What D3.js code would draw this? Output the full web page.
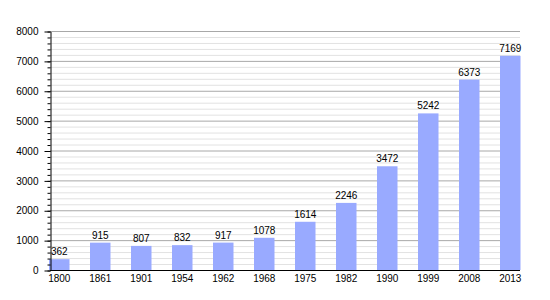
<!DOCTYPE html>
<html>
<head>
<meta charset="utf-8">
<script src="https://cdn.jsdelivr.net/npm/d3@7"></script>
<style>
	body { margin: 0; background: #fff; }
	svg { display: block; }
	text { font-family: "Liberation Sans", Arial, sans-serif; font-size: 10px; fill: #000; }
</style>
</head>
<body>
<svg id="chart" width="550" height="300"></svg>
<script>
const years = ['1800', '1861', '1901', '1954', '1962', '1968', '1975', '1982', '1990', '1999', '2008', '2013'];
const population = [362, 915, 807, 832, 917, 1078, 1614, 2246, 3472, 5242, 6373, 7169];
const majorTicks = [0, 1000, 2000, 3000, 4000, 5000, 6000, 7000, 8000];

const plotLeft = 50, plotRight = 520, plotTop = 31, plotBottom = 270;

const svg = d3.select('#chart');

// bars are left-aligned in their band, the last one ends at the right edge
const x = d3.scaleBand()
	.domain(years)
	.range([49, plotRight + 0.5])
	.paddingInner(0.5)
	.paddingOuter(0)
	.align(0);

const y = d3.scaleLinear()
	.domain([0, 8000])
	.range([plotBottom, plotTop]);

const minorTicks = d3.range(0, 8001, 200);

// grid lines: light every 200, darker every 1000
svg.append('g')
	.selectAll('line')
	.data(minorTicks.filter(d => d % 1000 !== 0))
	.join('line')
	.attr('x1', plotLeft).attr('x2', plotRight)
	.attr('y1', d => y(d) + 0.5).attr('y2', d => y(d) + 0.5)
	.attr('stroke', '#e2e2e2');

svg.append('g')
	.selectAll('line')
	.data(majorTicks.filter(d => d > 0))
	.join('line')
	.attr('x1', plotLeft).attr('x2', plotRight)
	.attr('y1', d => y(d) + 0.5).attr('y2', d => y(d) + 0.5)
	.attr('stroke', '#a8a8a8');

// bars
svg.append('g')
	.selectAll('rect')
	.data(population)
	.join('rect')
	.attr('x', (d, i) => x(years[i]))
	.attr('width', x.bandwidth())
	.attr('y', d => y(d))
	.attr('height', d => plotBottom - y(d))
	.attr('fill', '#99aaff');

// value labels
svg.append('g')
	.selectAll('text')
	.data(population)
	.join('text')
	.attr('x', (d, i) => x(years[i]) + x.bandwidth() / 2)
	.attr('y', d => y(d) - 4)
	.attr('text-anchor', 'middle')
	.text(d => d);

// minor y ticks
svg.append('g')
	.attr('transform', 'translate(' + (plotLeft + 0.5) + ',0.5)')
	.call(d3.axisLeft(y).tickValues(minorTicks).tickSize(3).tickFormat(''))
	.call(g => g.select('.domain').remove())
	.call(g => g.selectAll('line').attr('stroke', '#000'));

// major y axis
svg.append('g')
	.attr('transform', 'translate(' + (plotLeft + 0.5) + ',0.5)')
	.call(d3.axisLeft(y).tickValues(majorTicks).tickSize(6).tickPadding(6).tickSizeOuter(0).tickFormat(d3.format('d')))
	.call(g => g.select('.domain').attr('stroke', '#000'))
	.call(g => g.selectAll('line').attr('stroke', '#000'))
	.call(g => g.selectAll('text').attr('fill', '#000'))
	.call(g => g.attr('font-size', null).attr('font-family', null));

// x axis
svg.append('line')
	.attr('x1', plotLeft).attr('x2', plotRight)
	.attr('y1', plotBottom + 0.5).attr('y2', plotBottom + 0.5)
	.attr('stroke', '#000');

svg.append('g')
	.selectAll('text')
	.data(years)
	.join('text')
	.attr('x', d => x(d) + x.bandwidth() / 2)
	.attr('y', 282)
	.attr('text-anchor', 'middle')
	.text(d => d);
</script>
</body>
</html>
